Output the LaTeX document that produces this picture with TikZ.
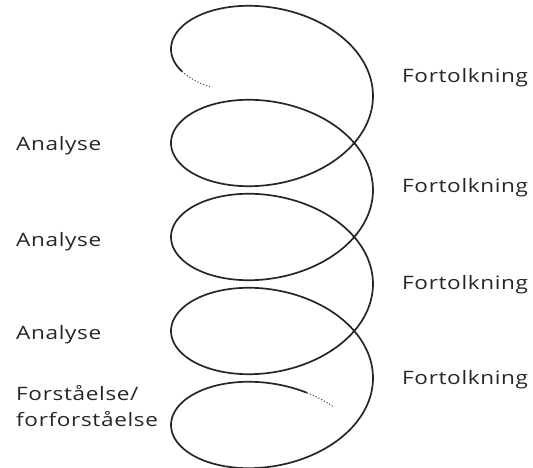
\documentclass[tikz,border=0pt]{standalone}
\usepackage{fontspec}
\setmainfont{Open Sans}
\newfontfamily\lblfont[FakeStretch=1.22,LetterSpace=3.5]{Open Sans}
\begin{document}
\begin{tikzpicture}[x=1pt,y=-1pt,
  lbl/.style={anchor=base west,inner sep=0pt,font=\lblfont\fontsize{18.5}{26}\selectfont,align=left,text=black!85},
  coil/.style={line width=1.7pt,black!85},
  coilend/.style={line width=1.1pt,black!70,dotted}]
\useasboundingbox (0,0) rectangle (533,468);
\draw[coilend] plot[domain=-0.91:-0.47,samples=20,smooth] ({272-101*cos(\x r)},{49-65*sin(\x r)+14.96*\x});
\draw[coil] plot[domain=-0.47:27.058,samples=500,smooth] ({272-101*cos(\x r)},{49-65*sin(\x r)+14.96*\x});
\draw[coilend] plot[domain=27.058:27.35,samples=20,smooth] ({272-101*cos(\x r)},{49-65*sin(\x r)+14.96*\x});
\node[lbl] (f1) at (402,83) {Fortolkning};
\node[lbl] (f2) at (402,193) {Fortolkning};
\node[lbl] (f3) at (402,289) {Fortolkning};
\node[lbl] (f4) at (402,384) {Fortolkning};
\node[lbl] (a1) at (16,151) {Analyse};
\node[lbl] (a2) at (16,246) {Analyse};
\node[lbl] (a3) at (16,339) {Analyse};
\node[lbl] (fo) at (16,426) {Forståelse/\\forforståelse};
\end{tikzpicture}
\end{document}
